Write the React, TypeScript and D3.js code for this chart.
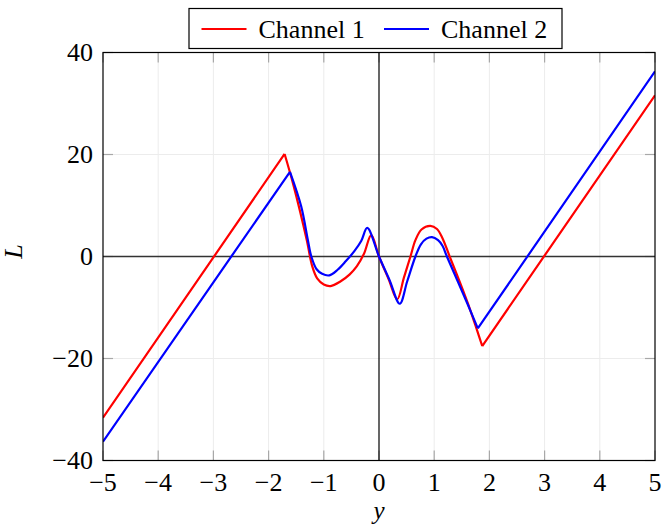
import React from "react";
import * as d3 from "d3";

// Sample points (y, L) for each channel
const channel1: [number, number][] = [
  [-5, -31.6],
  [-1.71, 20.1],
  [-1.55, 14.0],
  [-1.31, 3.3],
  [-1.21, -1.9],
  [-1.12, -4.3],
  [-1.0, -5.5],
  [-0.877, -5.8],
  [-0.7, -4.9],
  [-0.53, -3.5],
  [-0.4, -1.9],
  [-0.27, 0.6],
  [-0.14, 4.2],
  [0, 0],
  [0.177, -4.5],
  [0.33, -8.4],
  [0.45, -4.2],
  [0.57, 0],
  [0.66, 3.2],
  [0.77, 5.3],
  [0.93, 6.0],
  [1.05, 5.4],
  [1.15, 3.6],
  [1.28, 0],
  [1.47, -5.2],
  [1.65, -10.4],
  [1.78, -14.6],
  [1.87, -17.55],
  [5, 31.6],
];

const channel2: [number, number][] = [
  [-5, -36.3],
  [-1.613, 16.6],
  [-1.41, 9.85],
  [-1.29, 3.3],
  [-1.226, 0],
  [-1.13, -2.5],
  [-1.03, -3.4],
  [-0.9, -3.7],
  [-0.75, -2.6],
  [-0.6, -0.9],
  [-0.45, 1.0],
  [-0.32, 3.1],
  [-0.213, 5.6],
  [0, 0],
  [0.19, -4.6],
  [0.376, -9.26],
  [0.51, -4.9],
  [0.66, 0],
  [0.76, 2.4],
  [0.86, 3.5],
  [0.96, 3.8],
  [1.07, 3.2],
  [1.15, 2.1],
  [1.23, 0],
  [1.44, -5.2],
  [1.62, -9.7],
  [1.79, -14.1],
  [5, 36.3],
];

const xTicks = [-5, -4, -3, -2, -1, 0, 1, 2, 3, 4, 5];
const yTicks = [-40, -20, 0, 20, 40];
const seriesNames = ["Channel 1", "Channel 2"];
const seriesColors = ["#ff0000", "#0000ff"];

const W = 662;
const H = 525;
const FONT = "Liberation Serif, DejaVu Serif, Noto Serif, serif";
const FS = 26;

const fmt = (v: number) => (v < 0 ? "\u2212" + Math.abs(v) : String(v));

export default function App() {
  const x = d3.scaleLinear().domain([-5, 5]).range([103, 655]);
  const y = d3.scaleLinear().domain([-40, 40]).range([460.5, 52.5]);
  const [x0, x1] = x.range();
  const [y0, y1] = y.range();

  const straight = d3
    .line<[number, number]>()
    .x((d) => x(d[0]))
    .y((d) => y(d[1]));
  const smooth = d3
    .line<[number, number]>()
    .x((d) => x(d[0]))
    .y((d) => y(d[1]))
    .curve(d3.curveCatmullRom.alpha(0.5));

  // straight outer branches, smooth middle section
  const pathFor = (pts: [number, number][]) => {
    const n = pts.length;
    return (
      (straight(pts.slice(0, 2)) || "") +
      (smooth(pts.slice(1, n - 1)) || "") +
      (straight(pts.slice(n - 2)) || "")
    );
  };

  const series = [channel1, channel2];
  const tickLen = 10;
  const textStyle = { fontFamily: FONT };

  return (
    <svg
      width={W}
      height={H}
      style={{ position: "absolute", left: 0, top: 0, background: "#fff", fontFamily: FONT }}
    >
      <rect x={0} y={0} width={W} height={H} fill="#fff" />
      <defs>
        <clipPath id="plotClip">
          <rect x={x0} y={y1} width={x1 - x0} height={y0 - y1} />
        </clipPath>
      </defs>
      {/* grid */}
      {xTicks
        .filter((t) => t !== -5 && t !== 5 && t !== 0)
        .map((t) => (
          <line key={"gx" + t} x1={x(t)} x2={x(t)} y1={y0} y2={y1} stroke="#ececec" strokeWidth={1} />
        ))}
      {yTicks
        .filter((t) => t !== -40 && t !== 40 && t !== 0)
        .map((t) => (
          <line key={"gy" + t} x1={x0} x2={x1} y1={y(t)} y2={y(t)} stroke="#ececec" strokeWidth={1} />
        ))}
      {/* ticks */}
      {xTicks.map((t) => (
        <g key={"tx" + t}>
          <line x1={x(t)} x2={x(t)} y1={y0} y2={y0 - tickLen} stroke="#a8a8a8" strokeWidth={1.2} />
          <line x1={x(t)} x2={x(t)} y1={y1} y2={y1 + tickLen} stroke="#a8a8a8" strokeWidth={1.2} />
        </g>
      ))}
      {yTicks.map((t) => (
        <g key={"ty" + t}>
          <line x1={x0} x2={x0 + tickLen} y1={y(t)} y2={y(t)} stroke="#a8a8a8" strokeWidth={1.2} />
          <line x1={x1} x2={x1 - tickLen} y1={y(t)} y2={y(t)} stroke="#a8a8a8" strokeWidth={1.2} />
        </g>
      ))}
      {/* zero axes */}
      <line x1={x0} x2={x1} y1={y(0)} y2={y(0)} stroke="#333" strokeWidth={1.3} />
      <line x1={x(0)} x2={x(0)} y1={y0} y2={y1} stroke="#000" strokeWidth={1.2} />
      {/* curves */}
      <g clipPath="url(#plotClip)">
        {series.map((s, i) => (
          <path
            key={"s" + i}
            d={pathFor(s)}
            fill="none"
            stroke={seriesColors[i]}
            strokeWidth={2.2}
            strokeLinejoin="miter"
            strokeLinecap="butt"
          />
        ))}
      </g>
      {/* frame */}
      <rect x={x0} y={y1} width={x1 - x0} height={y0 - y1} fill="none" stroke="#000" strokeWidth={1.2} />
      {/* tick labels */}
      {xTicks.map((t) => (
        <text key={"lx" + t} x={x(t)} y={490.5} textAnchor="middle" fontSize={FS} fill="#000" style={textStyle}>
          {fmt(t)}
        </text>
      ))}
      {yTicks.map((t) => (
        <text key={"ly" + t} x={93} y={y(t) + 8.8} textAnchor="end" fontSize={FS} fill="#000" style={textStyle}>
          {fmt(t)}
        </text>
      ))}
      {/* axis titles */}
      <text x={x(0)} y={519} textAnchor="middle" fontSize={25} fontStyle="italic" style={textStyle}>
        y
      </text>
      <text
        transform={`translate(22,${y(0) - 5}) rotate(-90)`}
        textAnchor="middle"
        fontSize={FS}
        fontStyle="italic"
        style={textStyle}
      >
        L
      </text>
      {/* legend */}
      <rect x={189} y={8.5} width={373} height={40} fill="#fff" stroke="#000" strokeWidth={1.2} />
      {seriesNames.map((name, i) => {
        const lx = i === 0 ? 201.5 : 384;
        return (
          <g key={"lg" + i}>
            <line x1={lx} x2={lx + 45} y1={29} y2={29} stroke={seriesColors[i]} strokeWidth={2.2} />
            <text x={lx + 57} y={37.5} fontSize={FS} fill="#000" style={textStyle}>
              {name}
            </text>
          </g>
        );
      })}
    </svg>
  );
}
